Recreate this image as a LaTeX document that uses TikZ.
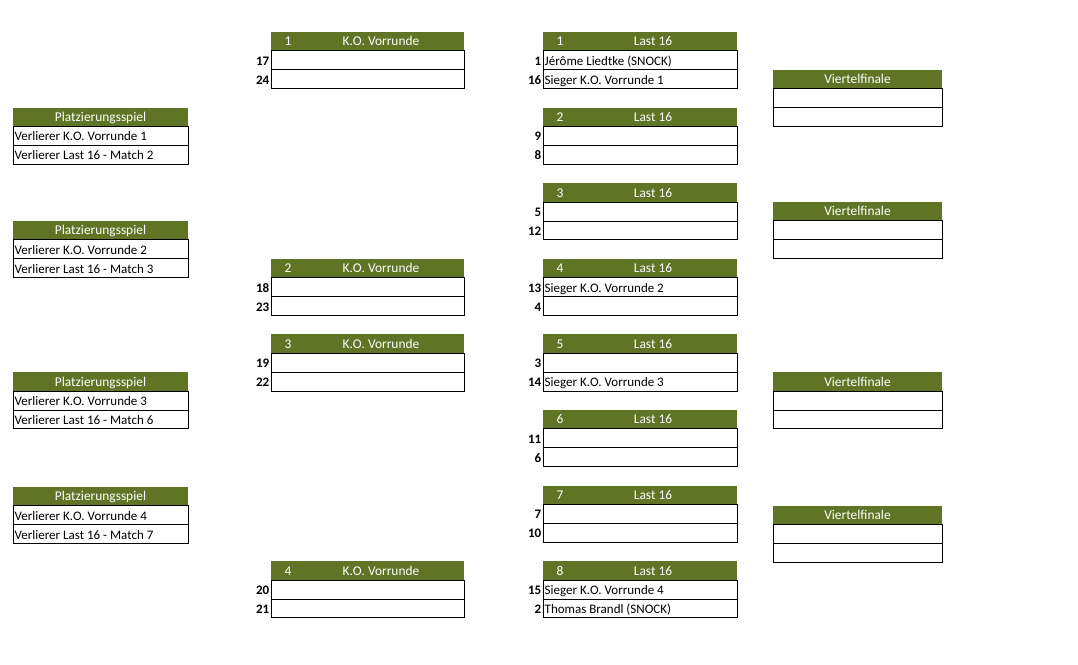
\documentclass[tikz,border=0pt]{standalone}
\usepackage{fontspec}
\setmainfont{Carlito}
\definecolor{olive}{RGB}{95,117,37}
\tikzset{
  hd/.style={fill=olive, draw=none, minimum height=18.9pt, inner sep=0pt, outer sep=0pt},
  rowbox/.style={draw=black, line width=0.9pt, fill=white, minimum height=18.9pt, inner sep=0pt, outer sep=0pt},
  rowtxt/.style={anchor=west, inner xsep=1.5pt, inner ysep=0pt, text height=10pt, text depth=0pt, font=\fontsize{13}{14}\selectfont},
  seed/.style={anchor=east, inner xsep=1.5pt, inner ysep=0pt, text height=10pt, text depth=0pt, font=\fontsize{13}{14}\selectfont\bfseries},
  hdtxt/.style={text=white, inner sep=0pt, text height=8.8pt, text depth=0pt, font=\fontsize{13.4}{15}\selectfont}
}
% #1 name, #2 x, #3 y, #4 width, #5 row1 text, #6 row2 text
\newcommand\gamebox[6]{%
  \node[hd, minimum width=#4pt, anchor=north west] (#1h) at (#2,#3) {};
  \node[rowbox, minimum width=#4pt, anchor=north west] (#1a) at (#1h.south west) {};
  \node[rowbox, minimum width=#4pt, anchor=north west] (#1b) at (#1a.south west) {};
  \node[rowtxt] (#1at) at (#1a.west) {#5};
  \node[rowtxt] (#1bt) at (#1b.west) {#6};
}
% numbered header: #1 name, #2 number, #3 title
\newcommand\numhead[3]{%
  \node[hdtxt] (#1n) at ([xshift=17pt]#1h.west) {#2};
  \node[hdtxt] (#1t) at ([xshift=110pt]#1h.west) {#3};
}
% seeds: #1 name, #2 seed1, #3 seed2
\newcommand\seeds[3]{%
  \node[seed] (#1s1) at (#1a.west) {#2};
  \node[seed] (#1s2) at (#1b.west) {#3};
}
\begin{document}
\begin{tikzpicture}[x=1pt,y=-1pt]
\useasboundingbox (0,0) rectangle (1078,664);
\fill[white] (0,0) rectangle (1078,664);
% K.O. Vorrunde
\gamebox{ko1}{271}{32}{193}{}{}
\numhead{ko1}{1}{K.O. Vorrunde}\seeds{ko1}{17}{24}
\gamebox{ko2}{271}{258.8}{193}{}{}
\numhead{ko2}{2}{K.O. Vorrunde}\seeds{ko2}{18}{23}
\gamebox{ko3}{271}{334.4}{193}{}{}
\numhead{ko3}{3}{K.O. Vorrunde}\seeds{ko3}{19}{22}
\gamebox{ko4}{271}{561.2}{193}{}{}
\numhead{ko4}{4}{K.O. Vorrunde}\seeds{ko4}{20}{21}
% Last 16
\gamebox{la}{543}{32}{194}{Jérôme Liedtke (SNOCK)}{Sieger K.O. Vorrunde 1}
\numhead{la}{1}{Last 16}\seeds{la}{1}{16}
\gamebox{lb}{543}{107.6}{194}{}{}
\numhead{lb}{2}{Last 16}\seeds{lb}{9}{8}
\gamebox{lc}{543}{183.2}{194}{}{}
\numhead{lc}{3}{Last 16}\seeds{lc}{5}{12}
\gamebox{ld}{543}{258.8}{194}{Sieger K.O. Vorrunde 2}{}
\numhead{ld}{4}{Last 16}\seeds{ld}{13}{4}
\gamebox{le}{543}{334.4}{194}{}{Sieger K.O. Vorrunde 3}
\numhead{le}{5}{Last 16}\seeds{le}{3}{14}
\gamebox{lf}{543}{410}{194}{}{}
\numhead{lf}{6}{Last 16}\seeds{lf}{11}{6}
\gamebox{lg}{543}{485.6}{194}{}{}
\numhead{lg}{7}{Last 16}\seeds{lg}{7}{10}
\gamebox{lh}{543}{561.2}{194}{Sieger K.O. Vorrunde 4}{Thomas Brandl (SNOCK)}
\numhead{lh}{8}{Last 16}\seeds{lh}{15}{2}
% Platzierungsspiel
\gamebox{pa}{13}{107.6}{175}{Verlierer K.O. Vorrunde 1}{Verlierer Last 16 - Match 2}
\node[hdtxt] (pat) at (pah) {Platzierungsspiel};
\gamebox{pb}{13}{221}{175}{Verlierer K.O. Vorrunde 2}{Verlierer Last 16 - Match 3}
\node[hdtxt] (pbt) at (pbh) {Platzierungsspiel};
\gamebox{pc}{13}{372.2}{175}{Verlierer K.O. Vorrunde 3}{Verlierer Last 16 - Match 6}
\node[hdtxt] (pct) at (pch) {Platzierungsspiel};
\gamebox{pd}{13}{487}{175}{Verlierer K.O. Vorrunde 4}{Verlierer Last 16 - Match 7}
\node[hdtxt] (pdt) at (pdh) {Platzierungsspiel};
% Viertelfinale
\gamebox{va}{773}{69.8}{169}{}{}
\node[hdtxt] (vat) at (vah) {Viertelfinale};
\gamebox{vb}{773}{202}{169}{}{}
\node[hdtxt] (vbt) at (vbh) {Viertelfinale};
\gamebox{vc}{773}{372.2}{169}{}{}
\node[hdtxt] (vct) at (vch) {Viertelfinale};
\gamebox{vd}{773}{506}{169}{}{}
\node[hdtxt] (vdt) at (vdh) {Viertelfinale};
\end{tikzpicture}
\end{document}
